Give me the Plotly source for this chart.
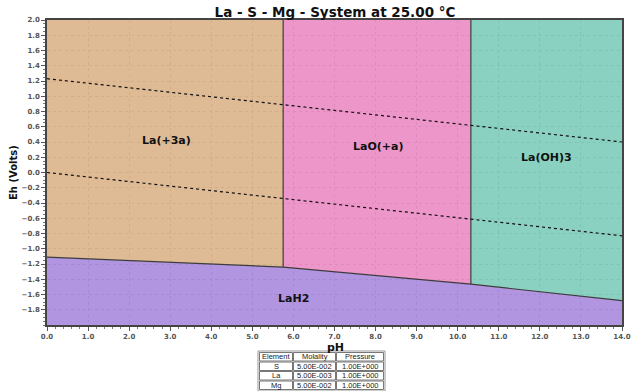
import plotly.graph_objects as go

# Stability field boundaries (pH, Eh in volts)
ph_la3_lao = 5.75
ph_lao_laoh3 = 10.32
lah2_ph = [0.0, 5.75, 10.32, 14.0]
lah2_eh = [-1.11, -1.24, -1.465, -1.68]

# Water stability limits
water_ph = [0.0, 14.0]
water_upper_eh = [1.23, 0.40]
water_lower_eh = [0.0, -0.83]

# Species fields: name, label position, fill colour
species = ["La(+3a)", "LaO(+a)", "La(OH)3", "LaH2"]
label_ph = [2.92, 8.06, 12.17, 5.99]
label_eh = [0.42, 0.34, 0.20, -1.65]
colors = ["rgba(218,178,138,0.9)", "rgba(234,139,195,0.9)",
          "rgba(125,204,186,0.9)", "rgba(168,137,221,0.9)"]

eh_min, eh_max = -2.0, 2.0
ph_min, ph_max = 0.0, 14.0

# Table of system conditions
table_header = ["Element", "Molality", "Pressure"]
elements = ["S", "La", "Mg"]
molality = ["5.00E-002", "5.00E-003", "5.00E-002"]
pressure = ["1.00E+000", "1.00E+000", "1.00E+000"]

W, H = 639, 391


def px_x(v):
    return v / W


def px_y(v):
    return 1 - v / H


polys = [
    ([ph_min, ph_la3_lao, ph_la3_lao, ph_min],
     [eh_max, eh_max, lah2_eh[1], lah2_eh[0]]),
    ([ph_la3_lao, ph_lao_laoh3, ph_lao_laoh3, ph_la3_lao],
     [eh_max, eh_max, lah2_eh[2], lah2_eh[1]]),
    ([ph_lao_laoh3, ph_max, ph_max, ph_lao_laoh3],
     [eh_max, eh_max, lah2_eh[3], lah2_eh[2]]),
    (lah2_ph + [ph_max, ph_min], lah2_eh + [eh_min, eh_min]),
]

fig = go.Figure()
for (px, py), c in zip(polys, colors):
    fig.add_trace(go.Scatter(x=px, y=py, fill="toself", fillcolor=c,
                             mode="none", hoverinfo="skip", showlegend=False))

edge = dict(color="#3c3c3c", width=1.2)
fig.add_trace(go.Scatter(x=lah2_ph, y=lah2_eh, mode="lines", line=edge,
                         showlegend=False, hoverinfo="skip"))
fig.add_trace(go.Scatter(x=[ph_la3_lao, ph_la3_lao], y=[lah2_eh[1], eh_max],
                         mode="lines", line=edge, showlegend=False, hoverinfo="skip"))
fig.add_trace(go.Scatter(x=[ph_lao_laoh3, ph_lao_laoh3], y=[lah2_eh[2], eh_max],
                         mode="lines", line=edge, showlegend=False, hoverinfo="skip"))

for w in (water_upper_eh, water_lower_eh):
    fig.add_trace(go.Scatter(x=water_ph, y=w, mode="lines",
                             line=dict(color="#111", width=1.2, dash="dot"),
                             showlegend=False, hoverinfo="skip"))

for name, lx, ly in zip(species, label_ph, label_eh):
    fig.add_annotation(x=lx, y=ly, text=name, showarrow=False,
                       font=dict(family="DejaVu Sans", size=11, color="#111",
                                 weight="bold"))

# Conditions table drawn as bordered cells below the diagram
col_edges = [259, 293, 336, 384]
row_top, row_h = 352, 9.5
rows = [table_header] + [list(r) for r in zip(elements, molality, pressure)]
cell_font = dict(family="Liberation Sans", size=7.5, color="#222")
fig.add_shape(type="rect", xref="paper", yref="paper",
              x0=px_x(col_edges[0] - 1), x1=px_x(col_edges[-1] + 1),
              y0=px_y(row_top - 1), y1=px_y(row_top + row_h * len(rows) + 1),
              line=dict(color="#999", width=1), fillcolor="white", layer="above")
for ri, row in enumerate(rows):
    y0 = row_top + ri * row_h
    for ci, txt in enumerate(row):
        x0, x1 = col_edges[ci], col_edges[ci + 1]
        fig.add_shape(type="rect", xref="paper", yref="paper",
                      x0=px_x(x0 + 0.5), x1=px_x(x1 - 0.5),
                      y0=px_y(y0 + 0.5), y1=px_y(y0 + row_h - 0.5),
                      line=dict(color="#777", width=1), layer="above")
        fig.add_annotation(text=txt, xref="paper", yref="paper",
                           x=px_x((x0 + x1) / 2), y=px_y(y0 + row_h / 2),
                           xanchor="center", yanchor="middle", showarrow=False,
                           font=cell_font)

tickfont = dict(family="DejaVu Sans", size=7, color="#555", weight="bold")
fig.update_layout(
    width=W, height=H,
    margin=dict(l=0, r=0, t=0, b=0),
    paper_bgcolor="white", plot_bgcolor="white",
    title=dict(text="La - S - Mg - System at 25.00 °C", x=335 / W, y=px_y(12),
               xanchor="center", yanchor="middle",
               font=dict(family="DejaVu Sans", size=13.5, color="#111", weight="bold")),
    xaxis=dict(domain=[47 / W, 622 / W], range=[ph_min, ph_max], automargin=False,
               tickvals=[float(v) for v in range(0, 15)], tickformat=".1f",
               ticks="outside", ticklen=4, tickcolor="#555", tickfont=tickfont,
               showline=True, linecolor="#444", linewidth=1.5, mirror=True,
               showgrid=True, gridcolor="#888", griddash="dot", gridwidth=1,
               zeroline=False, fixedrange=True,
               minor=dict(dtick=0.2, ticks="outside", ticklen=2, tickcolor="#777",
                          showgrid=False)),
    yaxis=dict(domain=[(H - 325) / H, (H - 20) / H], range=[eh_min, eh_max],
               automargin=False,
               tickvals=[round(-1.8 + 0.2 * i, 1) for i in range(20)], tickformat=".1f",
               ticks="outside", ticklen=4, tickcolor="#555", tickfont=tickfont,
               showline=True, linecolor="#444", linewidth=1.5, mirror=True,
               showgrid=True, gridcolor="#888", griddash="dot", gridwidth=1,
               zeroline=False, fixedrange=True,
               minor=dict(dtick=0.05, ticks="outside", ticklen=2, tickcolor="#777",
                          showgrid=False)),
)

fig.add_annotation(text="Eh (Volts)", xref="paper", yref="paper",
                   x=px_x(14), y=px_y(173), textangle=-90, showarrow=False,
                   xanchor="center", yanchor="middle",
                   font=dict(family="DejaVu Sans", size=10, color="#111", weight="bold"))
fig.add_annotation(text="pH", xref="paper", yref="paper",
                   x=px_x(335), y=px_y(347), showarrow=False,
                   xanchor="center", yanchor="middle",
                   font=dict(family="DejaVu Sans", size=11, color="#111", weight="bold"))

fig.write_html("out.html")
